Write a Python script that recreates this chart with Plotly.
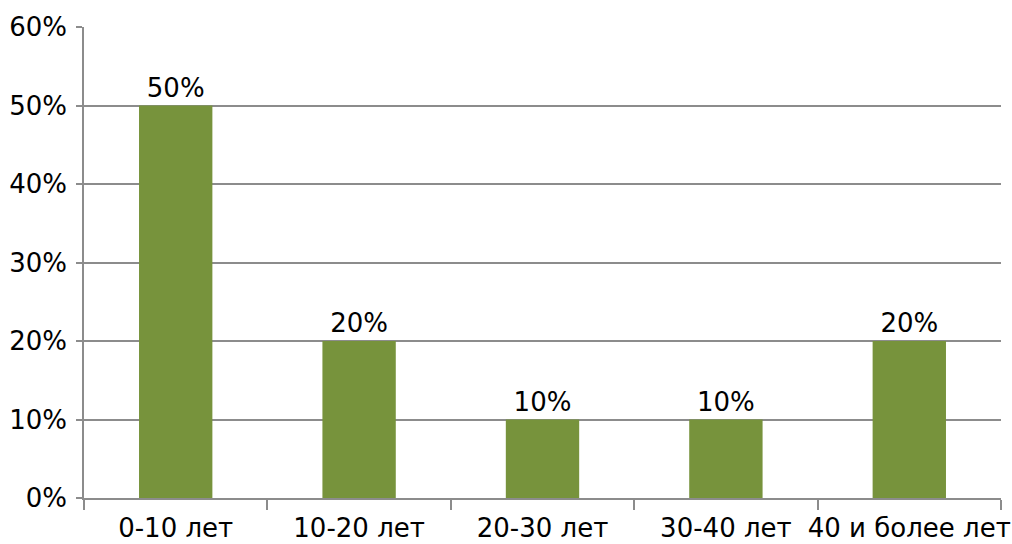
import plotly.graph_objects as go

categories = ["0-10 лет", "10-20 лет", "20-30 лет", "30-40 лет", "40 и более лет"]
values = [0.50, 0.20, 0.10, 0.10, 0.20]
y_ticks = [0, 0.1, 0.2, 0.3, 0.4, 0.5, 0.6]

GRID = "#8c8c8c"
FONT = dict(family="DejaVu Sans", size=26, color="#000000")

fig = go.Figure(go.Bar(
    x=categories, y=values,
    marker=dict(color="#77933C", line=dict(width=0)),
    texttemplate="%{y:.0%}", textposition="outside",
    textfont=FONT, cliponaxis=False,
))

fig.update_layout(
    width=1012, height=544,
    margin=dict(l=84, r=11, t=27, b=46),
    paper_bgcolor="white", plot_bgcolor="white",
    bargap=0.6, showlegend=False, font=FONT,
)
fig.update_xaxes(
    showline=True, linecolor=GRID, linewidth=1.5,
    ticks="outside", tickson="boundaries", ticklen=10, tickcolor=GRID, tickwidth=1.5,
    showgrid=False, tickfont=FONT, tickangle=0, automargin=False,
    ticklabelstandoff=6,
)
fig.update_yaxes(
    range=[0, 0.6], tickvals=y_ticks, tickformat=".0%",
    showline=True, linecolor=GRID, linewidth=1.5,
    ticks="outside", ticklen=6, tickcolor=GRID, tickwidth=1.5,
    showgrid=True, gridcolor=GRID, gridwidth=1.5, zeroline=False,
    tickfont=FONT, automargin=False, ticklabelstandoff=4,
)

fig.write_html("out.html")
